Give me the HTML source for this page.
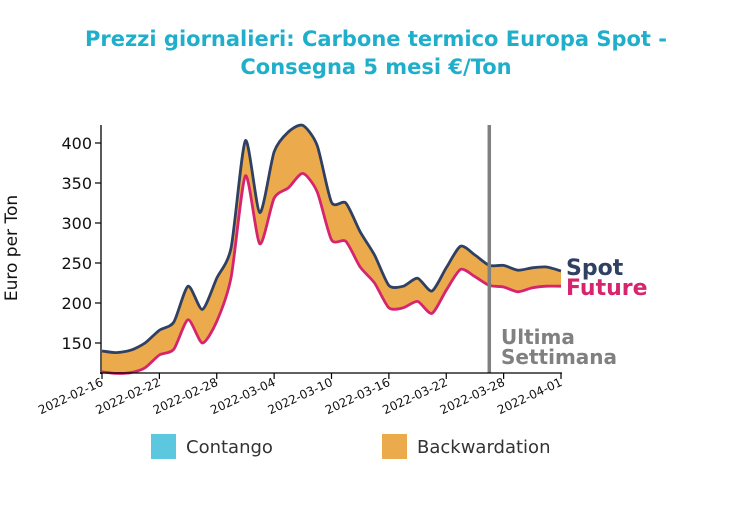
<!DOCTYPE html>
<html><head><meta charset="utf-8"><style>
body{margin:0;background:#fff;}
svg text{font-family:"DejaVu Sans","Liberation Sans",sans-serif;}
</style></head><body>
<svg width="752" height="504" viewBox="0 0 752 504">
<text x="376" y="46" text-anchor="middle" font-size="21" font-weight="bold" fill="#1FAFCB">Prezzi giornalieri: Carbone termico Europa Spot -</text>
<text x="376" y="74" text-anchor="middle" font-size="21" font-weight="bold" fill="#1FAFCB">Consegna 5 mesi €/Ton</text>
<g id="plot"></g>
<text transform="translate(17,248) rotate(-90)" text-anchor="middle" font-size="17" fill="#111">Euro per Ton</text>
<text x="566" y="275" font-size="22" font-weight="bold" fill="#2F4062">Spot</text>
<text x="566" y="295" font-size="22" font-weight="bold" fill="#D6246E">Future</text>
<text x="501" y="344" font-size="20" font-weight="bold" fill="#808080">Ultima</text>
<text x="501" y="364" font-size="20" font-weight="bold" fill="#808080">Settimana</text>
<rect x="151" y="434" width="25" height="25" fill="#5BC8DF"/>
<text x="186" y="453" font-size="18" fill="#333">Contango</text>
<rect x="382" y="434" width="25" height="25" fill="#EBAA4C"/>
<text x="417" y="453" font-size="18" fill="#333">Backwardation</text>
</svg>
<script>
const tickLabels=["2022-02-16","2022-02-22","2022-02-28","2022-03-04","2022-03-10","2022-03-16","2022-03-22","2022-03-28","2022-04-01"];
const spot=[140,138,141,150,166,176,221,192,231,269,403,313,389,414,422,397,326,325,289,260,222,221,231,215,244,271,260,247,247,241,244,245,240];
const future=[114,112,113,119,135,142,179,150,177,232,359,274,331,344,362,339,279,277,245,225,194,194,202,187,216,242,233,222,220,214,219,221,221];
const yTicks=[150,200,250,300,350,400];
const lastWeekIndex=27;
const NS="http://www.w3.org/2000/svg";
const g=document.getElementById('plot');
const x0=102,x1=561,yMin=112.5,yMax=422.5,yTop=125,yBot=373;
const xs=i=>x0+(x1-x0)*i/(spot.length-1);
const ys=v=>yBot-(v-yMin)/(yMax-yMin)*(yBot-yTop);
function mk(t,a){const e=document.createElementNS(NS,t);for(const k in a)e.setAttribute(k,a[k]);g.appendChild(e);return e;}
function curve(vals,rev){
  let p=vals.map((v,i)=>[xs(i),ys(v)]);if(rev)p=p.slice().reverse();
  let d="";
  for(let i=0;i<p.length-1;i++){
    const a=p[Math.max(i-1,0)],b=p[i],c=p[i+1],e=p[Math.min(i+2,p.length-1)];
    const t=0.12;
    const c1=[b[0]+(c[0]-a[0])*t,b[1]+(c[1]-a[1])*t],c2=[c[0]-(e[0]-b[0])*t,c[1]-(e[1]-b[1])*t];
    d+=` C${c1[0]},${c1[1]} ${c2[0]},${c2[1]} ${c[0]},${c[1]}`;
  }
  return {start:p[0],d};
}
const s=curve(spot,false),f=curve(future,true);
let el=mk('path',{d:`M${s.start[0]},${s.start[1]}${s.d} L${f.start[0]},${f.start[1]}${f.d}Z`,fill:'#EBAA4C'});


el=mk('path',{d:`M${s.start[0]},${s.start[1]}${s.d}`,fill:'none',stroke:'#2F4062','stroke-width':2.8});


const f2=curve(future,false);
el=mk('path',{d:`M${f2.start[0]},${f2.start[1]}${f2.d}`,fill:'none',stroke:'#D6246E','stroke-width':2.8});


el=mk('line',{x1:xs(lastWeekIndex),x2:xs(lastWeekIndex),y1:yTop,y2:yBot,stroke:'#808080','stroke-width':3.5});


el=mk('line',{x1:101,x2:101,y1:yTop,y2:yBot+1,stroke:'#000','stroke-width':1.3});


el=mk('line',{x1:100,x2:x1+1,y1:yBot,y2:yBot,stroke:'#000','stroke-width':1.3});


yTicks.forEach(v=>{
  const y=ys(v);
  el=mk('line',{x1:95,x2:101,y1:y,y2:y,stroke:'#000','stroke-width':1.2});
  
  
  el=mk('text',{x:92,y:y+6,'text-anchor':'end','font-size':16,fill:'#111'});
  el.textContent=v;
  
  
});
tickLabels.forEach((t,k)=>{
  const x=x0+(x1-x0)*k/(tickLabels.length-1);
  el=mk('line',{x1:x,x2:x,y1:yBot,y2:yBot+6,stroke:'#000','stroke-width':1.2});
  
  
  el=mk('text',{transform:`translate(${x+2},${yBot+12}) rotate(-25)`,'text-anchor':'end','font-size':12,fill:'#111'});
  el.textContent=t;
  
  
});
</script>
</body></html>
